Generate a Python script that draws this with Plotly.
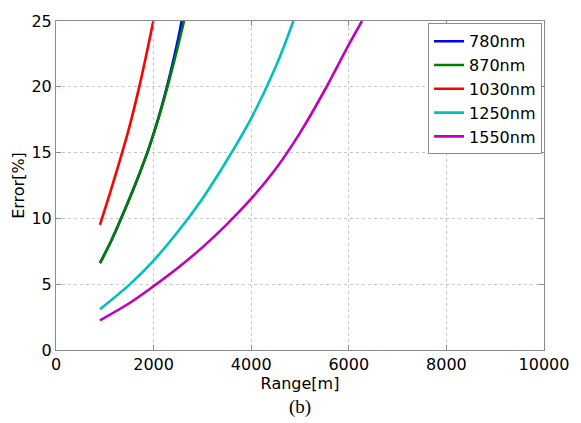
import plotly.graph_objects as go

# Range [m] / Error [%] samples for each wavelength
range_780 = [900, 1100, 1300, 1500, 1700, 1900, 2100, 2300, 2500, 2576]
error_780 = [6.6, 8.05, 9.7, 11.45, 13.3, 15.3, 17.65, 20.4, 23.6, 25.0]

range_870 = [900, 1100, 1300, 1500, 1700, 1900, 2100, 2300, 2500, 2624]
error_870 = [6.6, 8.05, 9.7, 11.45, 13.3, 15.3, 17.6, 20.2, 23.1, 25.0]

range_1030 = [900, 1100, 1300, 1500, 1700, 1900, 2000]
error_1030 = [9.5, 11.85, 14.3, 16.9, 19.9, 23.3, 25.1]

range_1250 = [900, 1500, 2000, 2500, 3000, 3500, 4000, 4500, 4865]
error_1250 = [3.1, 4.95, 6.8, 9.0, 11.5, 14.4, 17.6, 21.5, 25.0]

range_1550 = [900, 1500, 2000, 2500, 3000, 3500, 4000, 4500, 5000, 5500, 6000, 6270]
error_1550 = [2.25, 3.55, 4.85, 6.25, 7.8, 9.55, 11.5, 13.75, 16.5, 19.7, 23.2, 25.0]

series = [
    ("780nm", range_780, error_780, "rgb(0,0,255)"),
    ("870nm", range_870, error_870, "rgb(0,128,0)"),
    ("1030nm", range_1030, error_1030, "rgb(255,0,0)"),
    ("1250nm", range_1250, error_1250, "rgb(0,191,191)"),
    ("1550nm", range_1550, error_1550, "rgb(191,0,191)"),
]

x_ticks = [0, 2000, 4000, 6000, 8000, 10000]
y_ticks = [0, 5, 10, 15, 20, 25]

FONT = "DejaVu Sans"

fig = go.Figure()
for name, xs, ys, color in series:
    fig.add_trace(go.Scatter(
        x=xs, y=ys, name=name, mode="lines",
        line=dict(color=color, width=2.6, shape="spline", smoothing=1.0),
    ))

axis_common = dict(
    showline=True, linecolor="#8c8c8c", linewidth=1, mirror="ticks",
    ticks="inside", ticklen=5, tickcolor="#8c8c8c",
    showgrid=True, gridcolor="#c8c8c8", griddash="dot", gridwidth=1,
    zeroline=False,
    tickfont=dict(family=FONT, size=16, color="black"),
)

fig.update_xaxes(
    range=[0, 10000], tickvals=x_ticks, ticktext=[str(v) for v in x_ticks],
    title=dict(text="Range[m]", font=dict(family=FONT, size=16, color="black"), standoff=2),
    **axis_common,
)
fig.update_yaxes(
    range=[0, 25], tickvals=y_ticks, ticktext=[str(v) for v in y_ticks],
    title=dict(text="Error[%]", font=dict(family=FONT, size=16, color="black"), standoff=2),
    **axis_common,
)

fig.add_annotation(
    text="(b)", xref="paper", yref="paper", x=0.5, y=-0.173,
    xanchor="center", yanchor="middle", showarrow=False,
    font=dict(family="Liberation Serif", size=19, color="black"),
)

fig.update_layout(
    width=581, height=423,
    margin=dict(l=56, r=28, t=21, b=73),
    paper_bgcolor="white", plot_bgcolor="white",
    showlegend=True,
    legend=dict(
        x=0.996, y=0.993, xanchor="right", yanchor="top",
        bgcolor="white", bordercolor="#8c8c8c", borderwidth=1,
        font=dict(family=FONT, size=16, color="black"),
        itemwidth=30, tracegroupgap=0,
    ),
)

fig.write_html("out.html")
